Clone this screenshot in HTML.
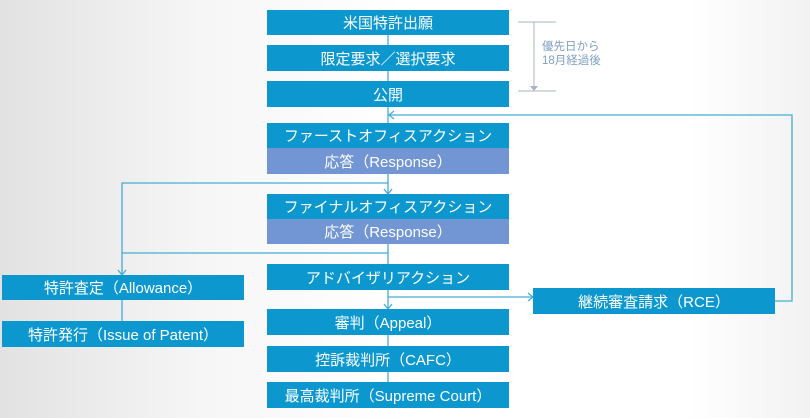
<!DOCTYPE html>
<html><head><meta charset="utf-8"><style>
body{margin:0;width:810px;height:418px;overflow:hidden;background:linear-gradient(90deg,#e2e2e2 0%,#f6f6f6 25%,#fff 50%,#fff 85%,#f2f2f2 100%);font-family:"Liberation Sans","Noto Sans CJK JP",sans-serif;position:relative}
.b{position:absolute;background:#0c98cf;color:#fff;font-size:15px;display:flex;align-items:center;justify-content:center;white-space:nowrap}
.r{background:#7196d3}
svg{position:absolute;left:0;top:0}
.t{position:absolute;left:542px;top:40px;font-size:11.5px;color:#7f9fbf;line-height:14px}
</style></head><body>
<svg width="810" height="418">
<g stroke="#45acd8" stroke-width="1.3" fill="none">
<line x1="388" y1="35" x2="388" y2="123"/>
<polyline points="775,301 792,301 792,115 388,115"/>
<polyline points="394,111 389,115 394,119"/>
<polyline points="388,174 388,194"/>
<polyline points="384,189 388,194 392,189"/>
<polyline points="388,183 122,183 122,275"/>
<polyline points="118,270 122,275 126,270"/>
<polyline points="388,244 388,309"/>
<line x1="122" y1="253" x2="388" y2="253"/>
<polyline points="384,304 388,309 392,304"/>
<line x1="388" y1="297" x2="533" y2="297"/>
<polyline points="528,293 533,297 528,301"/>
<line x1="122" y1="300" x2="122" y2="321"/>
<line x1="388" y1="335" x2="388" y2="382"/>
</g>
<g stroke="#a9b3c6" stroke-width="1" fill="none">
<line x1="518" y1="22" x2="556" y2="22"/>
<line x1="518" y1="91" x2="556" y2="91"/>
<line x1="534" y1="22" x2="534" y2="88"/>
</g>
<polygon points="530,86 538,86 534,91" fill="#a9b3c6"/>
</svg>
<div class="b" style="left:267px;top:10px;width:242px;height:25px">米国特許出願</div>
<div class="b" style="left:267px;top:45px;width:242px;height:26px">限定要求／選択要求</div>
<div class="b" style="left:267px;top:81px;width:242px;height:26px">公開</div>
<div class="b" style="left:267px;top:123px;width:242px;height:25px">ファーストオフィスアクション</div>
<div class="b r" style="left:267px;top:148px;width:242px;height:26px">応答（Response）</div>
<div class="b" style="left:267px;top:194px;width:242px;height:25px">ファイナルオフィスアクション</div>
<div class="b r" style="left:267px;top:219px;width:242px;height:25px">応答（Response）</div>
<div class="b" style="left:267px;top:264px;width:242px;height:26px">アドバイザリアクション</div>
<div class="b" style="left:267px;top:309px;width:242px;height:26px">審判（Appeal）</div>
<div class="b" style="left:267px;top:346px;width:242px;height:26px">控訴裁判所（CAFC）</div>
<div class="b" style="left:267px;top:382px;width:242px;height:26px">最高裁判所（Supreme Court）</div>
<div class="b" style="left:2px;top:275px;width:242px;height:25px">特許査定（Allowance）</div>
<div class="b" style="left:2px;top:321px;width:242px;height:26px">特許発行（Issue of Patent）</div>
<div class="b" style="left:533px;top:288px;width:242px;height:26px">継続審査請求（RCE）</div>
<div class="t">優先日から<br>18月経過後</div>
</body></html>
